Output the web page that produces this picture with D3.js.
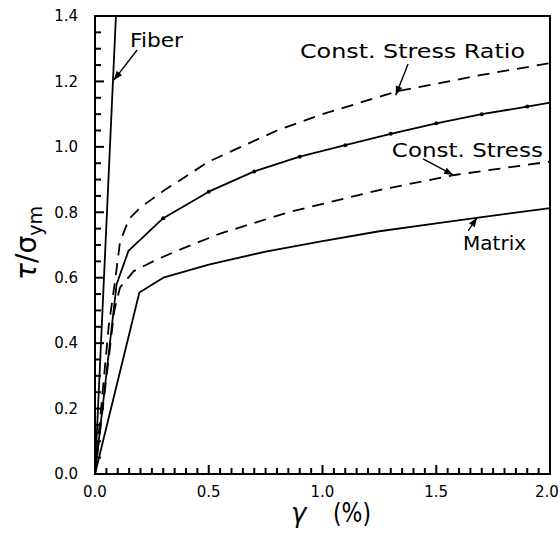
<!DOCTYPE html>
<html><head><meta charset="utf-8">
<script src="https://cdn.jsdelivr.net/npm/d3@7"></script>
<style>body{margin:0;background:#fff}svg{display:block}</style>
</head><body>
<svg id="c" width="560" height="533"></svg>
<script>
// ---- data ----
const fiberX = [0, 0.092];
const fiberY = [0, 1.4];
const compositeX = [0, 0.095, 0.147, 0.3, 0.5, 0.7, 0.9, 1.1, 1.3, 1.5, 1.7, 1.9, 2.0];
const compositeY = [0, 0.58, 0.682, 0.782, 0.863, 0.925, 0.97, 1.005, 1.04, 1.072, 1.10, 1.123, 1.135];
const compositeMarksX = [0.3, 0.5, 0.7, 0.9, 1.1, 1.3, 1.5, 1.7, 1.9];
const ratioX = [0, 0.06, 0.09, 0.11, 0.15, 0.2, 0.3, 0.5, 0.8, 1.0, 1.33, 1.7, 2.0];
const ratioY = [0, 0.45, 0.6, 0.71, 0.78, 0.815, 0.865, 0.955, 1.05, 1.10, 1.17, 1.22, 1.256];
const stressX = [0, 0.085, 0.11, 0.17, 0.27, 0.37, 0.55, 0.85, 1.25, 1.58, 2.0];
const stressY = [0, 0.5, 0.57, 0.62, 0.655, 0.685, 0.735, 0.80, 0.868, 0.914, 0.955];
const matrixX = [0, 0.195, 0.3, 0.5, 0.75, 1.0, 1.25, 1.5, 1.75, 2.0];
const matrixY = [0, 0.555, 0.60, 0.64, 0.68, 0.712, 0.742, 0.766, 0.79, 0.813];
const xTickLabels = ["0.0", "0.5", "1.0", "1.5", "2.0"];
const yTickLabels = ["0.0", "0.2", "0.4", "0.6", "0.8", "1.0", "1.2", "1.4"];
const labelTexts = ["Fiber", "Const. Stress Ratio", "Const. Stress", "Matrix"];

// ---- layout ----
const L = 95, R = 550, T = 16, B = 474;
const svg = d3.select("#c");
const x = d3.scaleLinear().domain([0, 2]).range([L, R]);
const y = d3.scaleLinear().domain([0, 1.4]).range([B, T]);
const font = "'DejaVu Sans', sans-serif";

// frame
svg.append("rect").attr("x", L).attr("y", T).attr("width", R - L).attr("height", B - T)
  .attr("fill", "none").attr("stroke", "#000").attr("stroke-width", 2);

// ticks (inside)
const xMinor = d3.range(0, 41).map(i => i * 0.05);
const yMinor = d3.range(0, 29).map(i => i * 0.05);
const isMajX = v => Math.abs(v * 2 - Math.round(v * 2)) < 1e-6;
const isMajY = v => Math.abs(v * 5 - Math.round(v * 5)) < 1e-6;
svg.append("g").selectAll("line").data(xMinor).enter().append("line")
  .attr("x1", d => x(d)).attr("x2", d => x(d))
  .attr("y1", B).attr("y2", d => B - (isMajX(d) ? 9 : 6))
  .attr("stroke", "#000").attr("stroke-width", 2);
svg.append("g").selectAll("line").data(yMinor).enter().append("line")
  .attr("y1", d => y(d)).attr("y2", d => y(d))
  .attr("x1", L).attr("x2", d => L + (isMajY(d) ? 9 : 6))
  .attr("stroke", "#000").attr("stroke-width", 2);

// tick labels
svg.append("g").selectAll("text").data(xTickLabels).enter().append("text")
  .attr("x", (d, i) => x(+d) - (i === xTickLabels.length - 1 ? 3 : 0)).attr("y", 497)
  .attr("text-anchor", "middle").attr("font-family", font).attr("font-size", 15).attr("fill", "#000")
  .text(d => d);
svg.append("g").selectAll("text").data(yTickLabels).enter().append("text")
  .attr("x", 78).attr("y", d => y(+d)).attr("dy", "0.35em")
  .attr("text-anchor", "end").attr("font-family", font).attr("font-size", 15).attr("fill", "#000")
  .text(d => d);

// curves
const line = d3.line().x(d => x(d[0])).y(d => y(d[1]));
const cg = svg.append("g");
function curve(xs, ys, dashed) {
  const pts = xs.map((v, i) => [v, ys[i]]);
  cg.append("path").datum(pts)
    .attr("d", line).attr("fill", "none").attr("stroke", "#000").attr("stroke-width", 1.8)
    .attr("stroke-linejoin", "round")
    .attr("stroke-dasharray", dashed ? "12,8" : null);
}
curve(fiberX, fiberY, false);
curve(compositeX, compositeY, false);
curve(matrixX, matrixY, false);
curve(ratioX, ratioY, true);
curve(stressX, stressY, true);

const interp = (xs, ys, v) => { const i = d3.bisectLeft(xs, v); if (xs[i] === v) return ys[i];
  const t = (v - xs[i - 1]) / (xs[i] - xs[i - 1]); return ys[i - 1] + t * (ys[i] - ys[i - 1]); };
cg.selectAll("circle").data(compositeMarksX).enter().append("circle")
  .attr("cx", d => x(d)).attr("cy", d => y(interp(compositeX, compositeY, d))).attr("r", 2).attr("fill", "#000");

// annotations (data coords) with arrowheads as polygons
const annTextPos = [[0.154, 1.305], [0.901, 1.272], [1.305, 0.969], [1.618, 0.685]];
const annTextLen = [53, 225, 151, 63];
const annArrowFrom = [[0.185, 1.296], [1.376, 1.253], [1.442, 0.963], [1.64, 0.743]];
const annArrowTo = [[0.083, 1.204], [1.322, 1.158], [1.574, 0.914], [1.679, 0.783]];
labelTexts.forEach((t, i) => {
  svg.append("text").attr("x", x(annTextPos[i][0])).attr("y", y(annTextPos[i][1]))
    .attr("font-family", font).attr("font-size", 20).attr("fill", "#000")
    .attr("textLength", annTextLen[i]).attr("lengthAdjust", "spacingAndGlyphs").text(t);
  const x1 = x(annArrowFrom[i][0]), y1 = y(annArrowFrom[i][1]);
  const x2 = x(annArrowTo[i][0]), y2 = y(annArrowTo[i][1]);
  svg.append("line").attr("x1", x1).attr("y1", y1).attr("x2", x2).attr("y2", y2)
    .attr("stroke", "#000").attr("stroke-width", 1.4);
  const a = Math.atan2(y2 - y1, x2 - x1), h = 9, w = 3.5;
  const bx = x2 - h * Math.cos(a), by = y2 - h * Math.sin(a);
  svg.append("path").attr("d", `M${x2},${y2}L${bx - w * Math.sin(a)},${by + w * Math.cos(a)}L${bx + w * Math.sin(a)},${by - w * Math.cos(a)}Z`)
    .attr("fill", "#000");
});

// axis titles
const yt = svg.append("text").attr("transform", "translate(36,243) rotate(-90)")
  .attr("text-anchor", "middle").attr("font-family", font).attr("font-size", 28).attr("fill", "#000");
yt.append("tspan").attr("font-style", "italic").text("τ");
yt.append("tspan").text("/σ");
yt.append("tspan").attr("font-size", 19).attr("dy", 6).text("ym");

svg.append("text").attr("x", 291).attr("y", 522).attr("font-family", font).attr("font-size", 26)
  .attr("font-style", "italic").attr("fill", "#000").text("γ");
svg.append("text").attr("x", 333).attr("y", 522).attr("font-family", font).attr("font-size", 26)
  .attr("fill", "#000").attr("textLength", 38).attr("lengthAdjust", "spacingAndGlyphs").text("(%)");
</script>
</body></html>
